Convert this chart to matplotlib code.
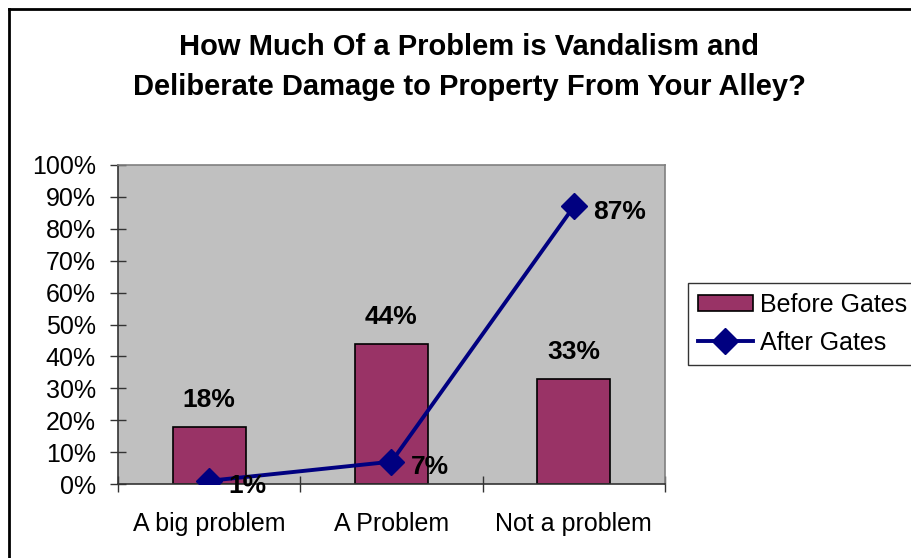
import matplotlib
matplotlib.use("Agg")
import matplotlib.pyplot as plt
from matplotlib.lines import Line2D
import numpy as np

plt.rcParams['font.family'] = ['Liberation Sans', 'DejaVu Sans']

categories = ["A big problem", "A Problem", "Not a problem"]
before_gates = [0.18, 0.44, 0.33]
after_gates = [0.01, 0.07, 0.87]
yticks = [0, 0.1, 0.2, 0.3, 0.4, 0.5, 0.6, 0.7, 0.8, 0.9, 1.0]
ytick_labels = ["0%", "10%", "20%", "30%", "40%", "50%", "60%", "70%", "80%", "90%", "100%"]
title_lines = ["How Much Of a Problem is Vandalism and",
               "Deliberate Damage to Property From Your Alley?"]

W, H = 912, 558
fig = plt.figure(figsize=(W / 100, H / 100), dpi=100)
fig.patch.set_facecolor("white")

L, R, T, B = 118, 665, 165, 484
ax = fig.add_axes([L / W, 1 - B / H, (R - L) / W, (B - T) / H])
ax.set_facecolor("#C0C0C0")

x = np.arange(len(categories))
bars = ax.bar(x, before_gates, width=0.4, color="#993366", edgecolor="black",
              linewidth=1.2, label="Before Gates", zorder=2)
line, = ax.plot(x, after_gates, color="#000080", linewidth=2.8, marker="D",
                markersize=13, label="After Gates", zorder=3)

for xi, v in zip(x, before_gates):
    ax.text(xi, v + 0.045, f"{round(v*100)}%", ha="center", va="bottom",
            fontsize=19, fontweight="bold", zorder=4)
for xi, v in zip(x, after_gates):
    ax.annotate(f"{round(v*100)}%", (xi, v), xytext=(14, -4),
                textcoords="offset points", ha="left", va="center",
                fontsize=19, fontweight="bold", zorder=4)

ax.set_xlim(-0.5, 2.5)
ax.set_ylim(0, 1.0)
ax.set_yticks(yticks)
ax.set_yticklabels(ytick_labels, fontsize=18)
ax.set_xticks([-0.5, 0.5, 1.5, 2.5])
ax.set_xticklabels([])
ax.set_xticks(x, minor=True)
ax.set_xticklabels(categories, minor=True, fontsize=18)
ax.tick_params(axis="x", which="minor", length=0, pad=20)
ax.tick_params(axis="x", which="major", direction="inout", length=12, width=1, color="#333333")
ax.tick_params(axis="y", direction="inout", length=12, width=1, color="#333333", pad=10)

for s in ["left", "bottom"]:
    ax.spines[s].set_color("#333333")
    ax.spines[s].set_linewidth(1.2)
for s in ["top", "right"]:
    ax.spines[s].set_color("#808080")
    ax.spines[s].set_linewidth(1.2)

leg = fig.legend([bars, line], ["Before Gates", "After Gates"],
                 loc="upper left", bbox_to_anchor=(688 / W, 1 - 283 / H),
                 frameon=True, fancybox=False, fontsize=18, handlelength=2.2,
                 handleheight=0.6, borderpad=0.4, labelspacing=0.55,
                 handletextpad=0.3, borderaxespad=0)
leg.get_frame().set_edgecolor("black")
leg.get_frame().set_linewidth(1.0)

fig.text(469 / W, 1 - 47 / H, title_lines[0], ha="center", va="center",
         fontsize=21, fontweight="bold")
fig.text(469 / W, 1 - 87 / H, title_lines[1], ha="center", va="center",
         fontsize=21, fontweight="bold")

# outer chart-area border (left and top visible)
fig.add_artist(Line2D([9 / W, 9 / W], [0, 1 - 9 / H], color="black", linewidth=2,
                      transform=fig.transFigure))
fig.add_artist(Line2D([9 / W, 1], [1 - 9 / H, 1 - 9 / H], color="black", linewidth=2,
                      transform=fig.transFigure))

fig.savefig("out.png", dpi=100)
